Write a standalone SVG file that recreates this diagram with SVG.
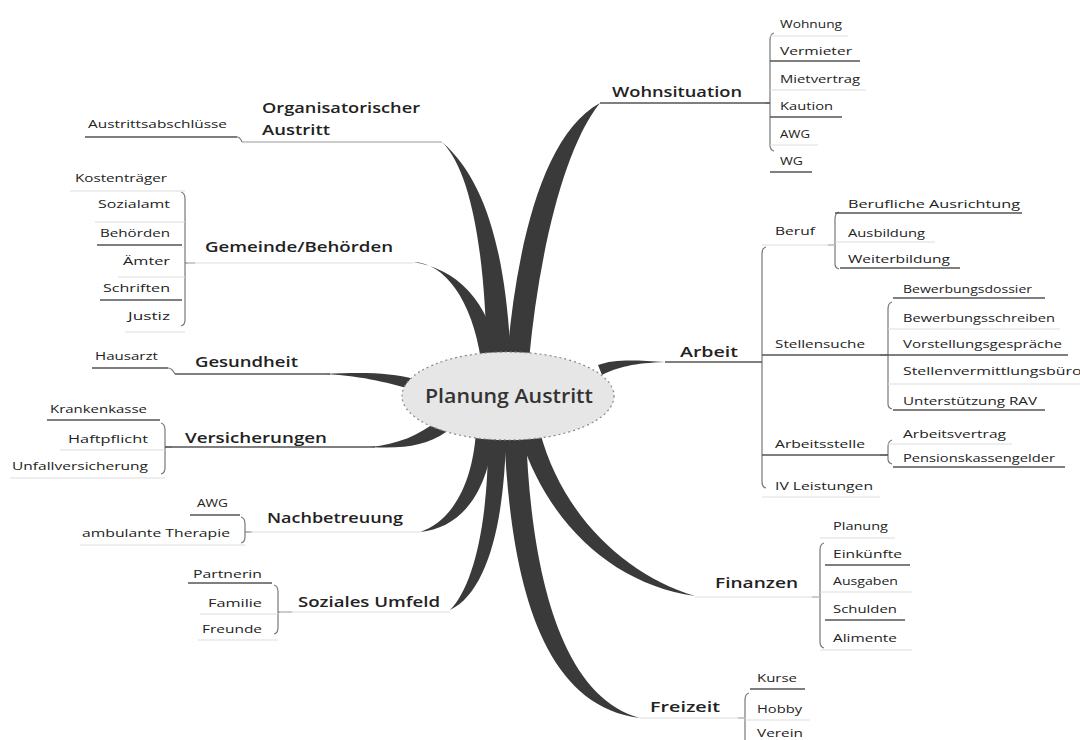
<svg xmlns="http://www.w3.org/2000/svg" width="1080" height="740" viewBox="0 0 1080 740">
<defs>
<style>
.br{fill:#3a3a3a}
.t{font-family:"Open Sans","DejaVu Sans",sans-serif;font-weight:600;font-size:15px;fill:#222}
.c{font-family:"Open Sans","DejaVu Sans",sans-serif;font-weight:600;font-size:19px;fill:#333}
.s{font-family:"Open Sans","DejaVu Sans",sans-serif;font-size:11px;fill:#222}
.e{text-anchor:end}
.ud{stroke:#555;stroke-width:1.5;fill:none}
.um{stroke:#999;stroke-width:1.2;fill:none}
.ul{stroke:#ddd;stroke-width:1;fill:none}
.bk{stroke:#777;stroke-width:1.2;fill:none}
</style>
</defs>
<rect width="1080" height="740" fill="#fff"/>
<g id="connectors">
<path class="br" d="M507,360 C515,258 540,135 600,103 C562,150 538,262 529,360 Z"/>
<path class="br" d="M487,360 C485,255 472,172 442,142 C488,182 506,258 511,360 Z"/>
<path class="br" d="M481,360 C472,300 445,263 413,262 C455,268 490,300 499,360 Z"/>
<path class="br" d="M414,379 C392,373 365,372 325,374 C365,376 392,384 414,390 Z"/>
<path class="br" d="M438,420 C418,436 398,444 370,447 C402,449 426,446 446,432 Z"/>
<path class="br" d="M598,365 C614,359 635,360 665,362 C635,363 617,367 602,375 Z"/>
<path class="br" d="M476,432 C472,488 450,522 420,532 C460,528 488,495 494,432 Z"/>
<path class="br" d="M488,432 C489,520 474,586 450,610 C488,592 505,520 506,432 Z"/>
<path class="br" d="M504,432 C510,565 535,705 640,718 C555,695 530,555 526,432 Z"/>
<path class="br" d="M520,436 C548,525 615,585 695,596 C625,575 562,515 540,432 Z"/>
<path class="bk" d="M774,33 Q770,34 770,40 L770,145 Q770,150 774,151 M765,103 L770,103"/>
<path class="bk" d="M766,247 Q762,248 762,254 L762,482 Q762,487 766,488"/>
<path class="bk" d="M839,212 Q835,213 835,219 L835,264 Q835,268 839,269 M828,245 L835,245"/>
<path class="bk" d="M892,302 Q888,303 888,309 L888,404 Q888,408 892,409 M880,355 L888,355"/>
<path class="bk" d="M892,440 Q888,441 888,447 L888,459 Q888,463 892,464 M880,455 L888,455"/>
<path class="bk" d="M824,543 Q820,544 820,550 L820,642 Q820,647 824,648 M812,597 L820,597"/>
<path class="bk" d="M749,693 Q745,694 745,700 L745,740 M738,718 L745,718"/>
<path class="bk" d="M181,192 Q185,193 185,199 L185,320 Q185,325 181,326 M185,263 L195,263"/>
<path class="bk" d="M161,423 Q165,424 165,430 L165,468 Q165,473 161,474 M165,447 L172,447"/>
<path class="bk" d="M241,517 Q245,518 245,524 L245,537 Q245,542 241,543 M245,532 L252,532"/>
<path class="bk" d="M274,585 Q278,586 278,592 L278,628 Q278,633 274,634 M278,612 L292,612"/>
<path class="bk" d="M237,137 Q240,137 242,142"/>
<path class="bk" d="M168,368 Q172,368 175,374"/>
</g>
<g id="center">
<ellipse cx="508" cy="396" rx="106" ry="44" fill="#e6e6e6" stroke="#888" stroke-width="1.2" stroke-dasharray="2 3"/>
<text class="c" x="425" y="403" textLength="168" lengthAdjust="spacingAndGlyphs">Planung Austritt</text>
</g>
<g id="wohnsituation">
<line class="ud" x1="600" y1="103" x2="770" y2="103"/>
<text class="t" x="612" y="97" textLength="130" lengthAdjust="spacingAndGlyphs">Wohnsituation</text>
</g>
<g id="wohn-items">
<text class="s" x="780" y="28" textLength="62" lengthAdjust="spacingAndGlyphs">Wohnung</text>
<line class="ul" x1="770" y1="36" x2="848" y2="36"/>
<text class="s" x="780" y="55" textLength="72" lengthAdjust="spacingAndGlyphs">Vermieter</text>
<line class="ud" x1="770" y1="61" x2="860" y2="61"/>
<text class="s" x="780" y="83" textLength="80" lengthAdjust="spacingAndGlyphs">Mietvertrag</text>
<line class="ul" x1="770" y1="90" x2="866" y2="90"/>
<text class="s" x="780" y="110" textLength="53" lengthAdjust="spacingAndGlyphs">Kaution</text>
<line class="ud" x1="770" y1="117" x2="842" y2="117"/>
<text class="s" x="780" y="138" textLength="30" lengthAdjust="spacingAndGlyphs">AWG</text>
<line class="ul" x1="770" y1="145" x2="818" y2="145"/>
<text class="s" x="780" y="165" textLength="23" lengthAdjust="spacingAndGlyphs">WG</text>
<line class="ud" x1="770" y1="172" x2="812" y2="172"/>
</g>
<g id="arbeit">
<line class="ud" x1="665" y1="362" x2="762" y2="362"/>
<text class="t" x="680" y="357" textLength="58" lengthAdjust="spacingAndGlyphs">Arbeit</text>
</g>
<g id="arbeit-items">
<text class="s" x="775" y="235" textLength="40" lengthAdjust="spacingAndGlyphs">Beruf</text>
<line class="ul" x1="762" y1="245" x2="835" y2="245"/>
<text class="s" x="848" y="208" textLength="172" lengthAdjust="spacingAndGlyphs">Berufliche Ausrichtung</text>
<line class="ud" x1="835" y1="213" x2="1022" y2="213"/>
<text class="s" x="848" y="237" textLength="77" lengthAdjust="spacingAndGlyphs">Ausbildung</text>
<line class="ul" x1="835" y1="242" x2="935" y2="242"/>
<text class="s" x="848" y="263" textLength="102" lengthAdjust="spacingAndGlyphs">Weiterbildung</text>
<line class="ud" x1="840" y1="268" x2="960" y2="268"/>
<text class="s" x="775" y="348" textLength="90" lengthAdjust="spacingAndGlyphs">Stellensuche</text>
<line class="ud" x1="762" y1="355" x2="888" y2="355"/>
<text class="s" x="903" y="293" textLength="129" lengthAdjust="spacingAndGlyphs">Bewerbungsdossier</text>
<line class="ud" x1="893" y1="298" x2="1045" y2="298"/>
<text class="s" x="903" y="322" font-size="12" textLength="152" lengthAdjust="spacingAndGlyphs">Bewerbungsschreiben</text>
<line class="ul" x1="888" y1="329" x2="1060" y2="329"/>
<text class="s" x="903" y="348" textLength="159" lengthAdjust="spacingAndGlyphs">Vorstellungsgespräche</text>
<line class="ud" x1="888" y1="355" x2="1068" y2="355"/>
<text class="s" x="903" y="375" font-size="12" textLength="186" lengthAdjust="spacingAndGlyphs">Stellenvermittlungsbüros</text>
<line class="ul" x1="888" y1="384" x2="1080" y2="384"/>
<text class="s" x="903" y="405" textLength="134" lengthAdjust="spacingAndGlyphs">Unterstützung RAV</text>
<line class="ud" x1="893" y1="410" x2="1045" y2="410"/>
<text class="s" x="775" y="448" font-size="8" textLength="90" lengthAdjust="spacingAndGlyphs">Arbeitsstelle</text>
<line class="ud" x1="762" y1="455" x2="888" y2="455"/>
<text class="s" x="903" y="438" textLength="103" lengthAdjust="spacingAndGlyphs">Arbeitsvertrag</text>
<line class="ul" x1="888" y1="444" x2="1012" y2="444"/>
<text class="s" x="903" y="462" textLength="152" lengthAdjust="spacingAndGlyphs">Pensionskassengelder</text>
<line class="ud" x1="893" y1="467" x2="1065" y2="467"/>
<text class="s" x="775" y="490" textLength="98" lengthAdjust="spacingAndGlyphs">IV Leistungen</text>
<line class="ul" x1="762" y1="497" x2="880" y2="497"/>
</g>
<g id="finanzen">
<line class="ul" x1="695" y1="597" x2="820" y2="597"/>
<text class="t" x="715" y="588" textLength="83" lengthAdjust="spacingAndGlyphs">Finanzen</text>
</g>
<g id="finanzen-items">
<text class="s" x="833" y="530" textLength="55" lengthAdjust="spacingAndGlyphs">Planung</text>
<line class="ul" x1="820" y1="538" x2="895" y2="538"/>
<text class="s" x="833" y="558" textLength="69" lengthAdjust="spacingAndGlyphs">Einkünfte</text>
<line class="ud" x1="825" y1="565" x2="910" y2="565"/>
<text class="s" x="833" y="585" textLength="65" lengthAdjust="spacingAndGlyphs">Ausgaben</text>
<line class="ul" x1="820" y1="592" x2="912" y2="592"/>
<text class="s" x="833" y="613" textLength="64" lengthAdjust="spacingAndGlyphs">Schulden</text>
<line class="ud" x1="825" y1="620" x2="905" y2="620"/>
<text class="s" x="833" y="642" textLength="64" lengthAdjust="spacingAndGlyphs">Alimente</text>
<line class="ul" x1="820" y1="650" x2="912" y2="650"/>
</g>
<g id="freizeit">
<line class="ul" x1="640" y1="718" x2="745" y2="718"/>
<text class="t" x="650" y="712" textLength="70" lengthAdjust="spacingAndGlyphs">Freizeit</text>
</g>
<g id="freizeit-items">
<text class="s" x="757" y="682" textLength="40" lengthAdjust="spacingAndGlyphs">Kurse</text>
<line class="ud" x1="750" y1="689" x2="805" y2="689"/>
<text class="s" x="757" y="713" textLength="45" lengthAdjust="spacingAndGlyphs">Hobby</text>
<line class="ul" x1="745" y1="720" x2="810" y2="720"/>
<text class="s" x="757" y="737" textLength="46" lengthAdjust="spacingAndGlyphs">Verein</text>
</g>
<g id="organisatorischer-austritt">
<line class="um" x1="242" y1="142" x2="442" y2="142"/>
<text class="t" x="262" y="113" textLength="158" lengthAdjust="spacingAndGlyphs">Organisatorischer</text>
<text class="t" x="262" y="135" textLength="68" lengthAdjust="spacingAndGlyphs">Austritt</text>
</g>
<g id="org-items">
<text class="s" x="88" y="128" textLength="139" lengthAdjust="spacingAndGlyphs">Austrittsabschlüsse</text>
<line class="ud" x1="85" y1="137" x2="237" y2="137"/>
</g>
<g id="gemeinde-behoerden">
<line class="ul" x1="188" y1="263" x2="413" y2="263"/>
<text class="t" x="205" y="252" textLength="188" lengthAdjust="spacingAndGlyphs">Gemeinde/Behörden</text>
</g>
<g id="gemeinde-items">
<text class="s e" x="167" y="182" textLength="92" lengthAdjust="spacingAndGlyphs">Kostenträger</text>
<line class="ul" x1="70" y1="191" x2="185" y2="191"/>
<text class="s e" x="170" y="208" textLength="72" lengthAdjust="spacingAndGlyphs">Sozialamt</text>
<line class="ul" x1="95" y1="222" x2="185" y2="222"/>
<text class="s e" x="170" y="237" textLength="70" lengthAdjust="spacingAndGlyphs">Behörden</text>
<line class="ud" x1="97" y1="245" x2="182" y2="245"/>
<text class="s e" x="170" y="265" textLength="47" lengthAdjust="spacingAndGlyphs">Ämter</text>
<line class="ul" x1="118" y1="277" x2="185" y2="277"/>
<text class="s e" x="170" y="292" textLength="67" lengthAdjust="spacingAndGlyphs">Schriften</text>
<line class="ud" x1="100" y1="300" x2="182" y2="300"/>
<text class="s e" x="170" y="320" textLength="42" lengthAdjust="spacingAndGlyphs">Justiz</text>
<line class="ul" x1="125" y1="332" x2="185" y2="332"/>
</g>
<g id="gesundheit">
<line class="ud" x1="175" y1="374" x2="330" y2="374"/>
<text class="t" x="195" y="367" textLength="103" lengthAdjust="spacingAndGlyphs">Gesundheit</text>
</g>
<g id="gesundheit-items">
<text class="s" x="95" y="360" font-size="10" textLength="63" lengthAdjust="spacingAndGlyphs">Hausarzt</text>
<line class="ud" x1="92" y1="368" x2="168" y2="368"/>
</g>
<g id="versicherungen">
<line class="ud" x1="165" y1="447" x2="375" y2="447"/>
<text class="t" x="185" y="443" textLength="142" lengthAdjust="spacingAndGlyphs">Versicherungen</text>
</g>
<g id="versicherungen-items">
<text class="s e" x="147" y="413" textLength="97" lengthAdjust="spacingAndGlyphs">Krankenkasse</text>
<line class="ud" x1="47" y1="420" x2="160" y2="420"/>
<text class="s e" x="148" y="443" textLength="80" lengthAdjust="spacingAndGlyphs">Haftpflicht</text>
<line class="ul" x1="60" y1="450" x2="165" y2="450"/>
<text class="s e" x="148" y="470" textLength="136" lengthAdjust="spacingAndGlyphs">Unfallversicherung</text>
<line class="ul" x1="10" y1="478" x2="165" y2="478"/>
</g>
<g id="nachbetreuung">
<line class="ul" x1="250" y1="532" x2="420" y2="532"/>
<text class="t" x="267" y="523" textLength="136" lengthAdjust="spacingAndGlyphs">Nachbetreuung</text>
</g>
<g id="nachbetreuung-items">
<text class="s e" x="228" y="507" textLength="31" lengthAdjust="spacingAndGlyphs">AWG</text>
<line class="ud" x1="190" y1="515" x2="240" y2="515"/>
<text class="s e" x="230" y="537" font-size="12" textLength="148" lengthAdjust="spacingAndGlyphs">ambulante Therapie</text>
<line class="ul" x1="80" y1="545" x2="245" y2="545"/>
</g>
<g id="soziales-umfeld">
<line class="ul" x1="280" y1="612" x2="450" y2="612"/>
<text class="t" x="298" y="607" textLength="142" lengthAdjust="spacingAndGlyphs">Soziales Umfeld</text>
</g>
<g id="soziales-items">
<text class="s e" x="262" y="578" textLength="69" lengthAdjust="spacingAndGlyphs">Partnerin</text>
<line class="ud" x1="188" y1="583" x2="272" y2="583"/>
<text class="s e" x="262" y="607" textLength="54" lengthAdjust="spacingAndGlyphs">Familie</text>
<line class="ul" x1="200" y1="614" x2="278" y2="614"/>
<text class="s e" x="262" y="633" textLength="60" lengthAdjust="spacingAndGlyphs">Freunde</text>
<line class="ul" x1="198" y1="640" x2="278" y2="640"/>
</g>
</svg>
